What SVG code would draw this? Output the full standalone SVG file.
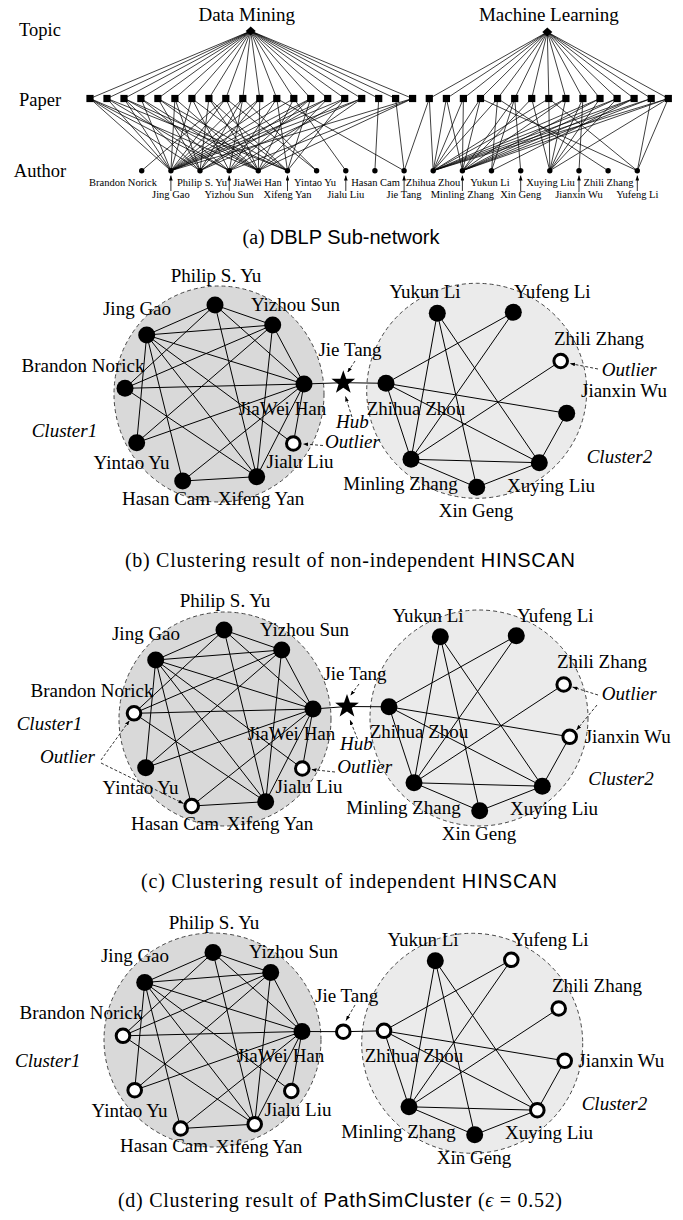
<svg xmlns="http://www.w3.org/2000/svg" width="683" height="1220" viewBox="0 0 683 1220">
<style>
.t{font-family:"Liberation Serif","Times New Roman",serif;fill:#000}
.s{font-family:"Liberation Sans",Arial,sans-serif}
.l{font-size:19px;text-anchor:middle}
.ls{font-size:19px}
.i{font-style:italic}
.a{font-size:10.5px;text-anchor:middle}
.row{font-size:18.5px;text-anchor:middle}
.cap{font-size:20px}
.e{stroke:#000;stroke-width:1;fill:none}
.ea{stroke:#000;stroke-width:0.75;fill:none}
.f{fill:#000}
.h{fill:#fff;stroke:#000;stroke-width:3}
.c1{fill:#d9d9d9;stroke:#333;stroke-width:0.9;stroke-dasharray:4 3}
.c2{fill:#ebebeb;stroke:#333;stroke-width:0.9;stroke-dasharray:4 3}
.d{stroke:#000;stroke-width:0.8;stroke-dasharray:3 2;fill:none;marker-end:url(#ah)}
.up{stroke:#000;stroke-width:0.8;fill:none;marker-end:url(#ah)}
</style>
<defs>
<marker id="ah" viewBox="0 0 8 6" refX="8" refY="3" markerWidth="5" markerHeight="3.75" markerUnits="userSpaceOnUse" orient="auto"><path d="M0 0L8 3L0 6z" fill="#000"/></marker>
</defs>
<rect width="683" height="1220" fill="#fff"/>

<!-- ============ Panel (a) ============ -->
<g id="panel-a">
<text class="t row" x="40" y="36">Topic</text>
<text class="t row" x="40" y="106">Paper</text>
<text class="t row" x="40" y="176.7">Author</text>
<g id="connectors-a">
<path class="ea" d="M250.7 31L90 98.5M250.7 31L107 98.5M250.7 31L124 98.5M250.7 31L140.9 98.5M250.7 31L157.9 98.5M250.7 31L174.9 98.5M250.7 31L191.9 98.5M250.7 31L208.9 98.5M250.7 31L225.8 98.5M250.7 31L242.8 98.5M250.7 31L259.8 98.5M250.7 31L276.8 98.5M250.7 31L293.8 98.5M250.7 31L310.7 98.5M250.7 31L327.7 98.5M250.7 31L344.7 98.5M250.7 31L361.7 98.5M250.7 31L378.7 98.5M250.7 31L395.6 98.5M250.7 31L412.6 98.5"/>
<path class="ea" d="M547.3 32L429.3 98.5M547.3 32L446.4 98.5M547.3 32L463.4 98.5M547.3 32L480.5 98.5M547.3 32L497.6 98.5M547.3 32L514.7 98.5M547.3 32L531.7 98.5M547.3 32L548.8 98.5M547.3 32L565.9 98.5M547.3 32L582.9 98.5M547.3 32L600 98.5M547.3 32L617.1 98.5M547.3 32L634.1 98.5M547.3 32L651.2 98.5M547.3 32L668.3 98.5"/>
<path class="ea" d="M90 98.5L170.9 170.7M90 98.5L200 170.7M90 98.5L229.2 170.7M90 98.5L258.3 170.7
M107 98.5L170.9 170.7M107 98.5L229.2 170.7M107 98.5L287.5 170.7
M124 98.5L170.9 170.7M124 98.5L200 170.7M124 98.5L258.3 170.7M124 98.5L287.5 170.7
M140.9 98.5L170.9 170.7M140.9 98.5L229.2 170.7M140.9 98.5L258.3 170.7
M157.9 98.5L200 170.7M157.9 98.5L258.3 170.7M157.9 98.5L287.5 170.7
M174.9 98.5L170.9 170.7M174.9 98.5L200 170.7M174.9 98.5L258.3 170.7
M191.9 98.5L170.9 170.7M191.9 98.5L229.2 170.7M191.9 98.5L287.5 170.7
M208.9 98.5L200 170.7M208.9 98.5L258.3 170.7M208.9 98.5L287.5 170.7
M225.8 98.5L141.7 170.7M225.8 98.5L170.9 170.7M225.8 98.5L258.3 170.7M225.8 98.5L316.6 170.7
M242.8 98.5L170.9 170.7M242.8 98.5L200 170.7M242.8 98.5L229.2 170.7M242.8 98.5L316.6 170.7
M259.8 98.5L170.9 170.7M259.8 98.5L200 170.7M259.8 98.5L258.3 170.7
M276.8 98.5L170.9 170.7M276.8 98.5L229.2 170.7M276.8 98.5L287.5 170.7M276.8 98.5L404.1 170.7
M293.8 98.5L170.9 170.7M293.8 98.5L258.3 170.7M293.8 98.5L345.8 170.7
M310.7 98.5L170.9 170.7M310.7 98.5L200 170.7M310.7 98.5L229.2 170.7M310.7 98.5L287.5 170.7
M327.7 98.5L170.9 170.7M327.7 98.5L200 170.7M327.7 98.5L258.3 170.7
M344.7 98.5L170.9 170.7M344.7 98.5L229.2 170.7M344.7 98.5L287.5 170.7
M361.7 98.5L170.9 170.7M361.7 98.5L200 170.7M361.7 98.5L258.3 170.7
M378.7 98.5L374.9 170.7
M395.6 98.5L404.1 170.7
M412.6 98.5L170.9 170.7M412.6 98.5L229.2 170.7M412.6 98.5L258.3 170.7"/>
<path class="ea" d="M429.3 98.5L404.1 170.7M429.3 98.5L433.2 170.7
M446.4 98.5L433.2 170.7M446.4 98.5L462.4 170.7
M463.4 98.5L433.2 170.7M463.4 98.5L462.4 170.7
M480.5 98.5L433.2 170.7M480.5 98.5L462.4 170.7M480.5 98.5L637.3 170.7
M497.6 98.5L433.2 170.7M497.6 98.5L491.5 170.7M497.6 98.5L608.1 170.7
M514.7 98.5L462.4 170.7M514.7 98.5L491.5 170.7M514.7 98.5L520.7 170.7
M531.7 98.5L462.4 170.7M531.7 98.5L549.8 170.7
M548.8 98.5L433.2 170.7M548.8 98.5L549.8 170.7M548.8 98.5L637.3 170.7
M565.9 98.5L433.2 170.7M565.9 98.5L462.4 170.7M565.9 98.5L549.8 170.7
M582.9 98.5L549.8 170.7M582.9 98.5L579 170.7
M600 98.5L433.2 170.7M600 98.5L462.4 170.7M600 98.5L549.8 170.7
M617.1 98.5L433.2 170.7M617.1 98.5L462.4 170.7M617.1 98.5L549.8 170.7
M634.1 98.5L433.2 170.7M634.1 98.5L462.4 170.7M634.1 98.5L491.5 170.7
M651.2 98.5L433.2 170.7M651.2 98.5L462.4 170.7M651.2 98.5L637.3 170.7
M668.3 98.5L433.2 170.7M668.3 98.5L462.4 170.7M668.3 98.5L549.8 170.7M668.3 98.5L637.3 170.7"/>
</g>
<g id="topic-dm"><polygon class="f" points="250.7,26.5 255.7,31 250.7,35.5 245.7,31"/><text class="t" x="246.7" y="20.7" font-size="19" text-anchor="middle">Data Mining</text></g>
<g id="topic-ml"><polygon class="f" points="547.3,27.5 552.3,32 547.3,36.5 542.3,32"/><text class="t" x="548.8" y="20.7" font-size="19" text-anchor="middle">Machine Learning</text></g>
<g id="papers" class="f">
<g id="p1"><rect x="86.4" y="94.9" width="7.2" height="7.2"/></g>
<g id="p2"><rect x="103.4" y="94.9" width="7.2" height="7.2"/></g>
<g id="p3"><rect x="120.4" y="94.9" width="7.2" height="7.2"/></g>
<g id="p4"><rect x="137.3" y="94.9" width="7.2" height="7.2"/></g>
<g id="p5"><rect x="154.3" y="94.9" width="7.2" height="7.2"/></g>
<g id="p6"><rect x="171.3" y="94.9" width="7.2" height="7.2"/></g>
<g id="p7"><rect x="188.3" y="94.9" width="7.2" height="7.2"/></g>
<g id="p8"><rect x="205.3" y="94.9" width="7.2" height="7.2"/></g>
<g id="p9"><rect x="222.2" y="94.9" width="7.2" height="7.2"/></g>
<g id="p10"><rect x="239.2" y="94.9" width="7.2" height="7.2"/></g>
<g id="p11"><rect x="256.2" y="94.9" width="7.2" height="7.2"/></g>
<g id="p12"><rect x="273.2" y="94.9" width="7.2" height="7.2"/></g>
<g id="p13"><rect x="290.2" y="94.9" width="7.2" height="7.2"/></g>
<g id="p14"><rect x="307.1" y="94.9" width="7.2" height="7.2"/></g>
<g id="p15"><rect x="324.1" y="94.9" width="7.2" height="7.2"/></g>
<g id="p16"><rect x="341.1" y="94.9" width="7.2" height="7.2"/></g>
<g id="p17"><rect x="358.1" y="94.9" width="7.2" height="7.2"/></g>
<g id="p18"><rect x="375.1" y="94.9" width="7.2" height="7.2"/></g>
<g id="p19"><rect x="392" y="94.9" width="7.2" height="7.2"/></g>
<g id="p20"><rect x="409" y="94.9" width="7.2" height="7.2"/></g>
<g id="q1"><rect x="425.7" y="94.9" width="7.2" height="7.2"/></g>
<g id="q2"><rect x="442.8" y="94.9" width="7.2" height="7.2"/></g>
<g id="q3"><rect x="459.8" y="94.9" width="7.2" height="7.2"/></g>
<g id="q4"><rect x="476.9" y="94.9" width="7.2" height="7.2"/></g>
<g id="q5"><rect x="494" y="94.9" width="7.2" height="7.2"/></g>
<g id="q6"><rect x="511.1" y="94.9" width="7.2" height="7.2"/></g>
<g id="q7"><rect x="528.1" y="94.9" width="7.2" height="7.2"/></g>
<g id="q8"><rect x="545.2" y="94.9" width="7.2" height="7.2"/></g>
<g id="q9"><rect x="562.3" y="94.9" width="7.2" height="7.2"/></g>
<g id="q10"><rect x="579.3" y="94.9" width="7.2" height="7.2"/></g>
<g id="q11"><rect x="596.4" y="94.9" width="7.2" height="7.2"/></g>
<g id="q12"><rect x="613.5" y="94.9" width="7.2" height="7.2"/></g>
<g id="q13"><rect x="630.5" y="94.9" width="7.2" height="7.2"/></g>
<g id="q14"><rect x="647.6" y="94.9" width="7.2" height="7.2"/></g>
<g id="q15"><rect x="664.7" y="94.9" width="7.2" height="7.2"/></g>
</g>
<g id="authors">
<g id="a-brandon"><circle class="f" cx="141.7" cy="170.7" r="2.7"/><text class="t a" x="123" y="185.7">Brandon Norick</text></g>
<g id="a-jinggao"><circle class="f" cx="170.9" cy="170.7" r="2.7"/><path class="up" d="M170.9 191L170.9 175.5"/><text class="t a" x="170.9" y="198">Jing Gao</text></g>
<g id="a-philip"><circle class="f" cx="200" cy="170.7" r="2.7"/><text class="t a" x="202" y="185.7">Philip S. Yu</text></g>
<g id="a-yizhou"><circle class="f" cx="229.2" cy="170.7" r="2.7"/><path class="up" d="M229.2 191L229.2 175.5"/><text class="t a" x="229.2" y="198">Yizhou Sun</text></g>
<g id="a-jiawei"><circle class="f" cx="258.3" cy="170.7" r="2.7"/><text class="t a" x="257.5" y="185.7">JiaWei Han</text></g>
<g id="a-xifeng"><circle class="f" cx="287.5" cy="170.7" r="2.7"/><path class="up" d="M287.5 191L287.5 175.5"/><text class="t a" x="287.5" y="198">Xifeng Yan</text></g>
<g id="a-yintao"><circle class="f" cx="316.6" cy="170.7" r="2.7"/><text class="t a" x="315" y="185.7">Yintao Yu</text></g>
<g id="a-jialu"><circle class="f" cx="345.8" cy="170.7" r="2.7"/><path class="up" d="M345.8 191L345.8 175.5"/><text class="t a" x="345.8" y="198">Jialu Liu</text></g>
<g id="a-hasan"><circle class="f" cx="374.9" cy="170.7" r="2.7"/><text class="t a" x="375.5" y="185.7">Hasan Cam</text></g>
<g id="a-jietang"><circle class="f" cx="404.1" cy="170.7" r="2.7"/><path class="up" d="M404.1 191L404.1 175.5"/><text class="t a" x="404.1" y="198">Jie Tang</text></g>
<g id="a-zhihua"><circle class="f" cx="433.2" cy="170.7" r="2.7"/><text class="t a" x="433" y="185.7">Zhihua Zhou</text></g>
<g id="a-minling"><circle class="f" cx="462.4" cy="170.7" r="2.7"/><path class="up" d="M462.4 191L462.4 175.5"/><text class="t a" x="462.4" y="198">Minling Zhang</text></g>
<g id="a-yukun"><circle class="f" cx="491.5" cy="170.7" r="2.7"/><text class="t a" x="490" y="185.7">Yukun Li</text></g>
<g id="a-xingeng"><circle class="f" cx="520.7" cy="170.7" r="2.7"/><path class="up" d="M520.7 191L520.7 175.5"/><text class="t a" x="520.7" y="198">Xin Geng</text></g>
<g id="a-xuying"><circle class="f" cx="549.8" cy="170.7" r="2.7"/><text class="t a" x="550.5" y="185.7">Xuying Liu</text></g>
<g id="a-jianxin"><circle class="f" cx="579" cy="170.7" r="2.7"/><path class="up" d="M579 191L579 175.5"/><text class="t a" x="579" y="198">Jianxin Wu</text></g>
<g id="a-zhili"><circle class="f" cx="608.1" cy="170.7" r="2.7"/><text class="t a" x="608.5" y="185.7">Zhili Zhang</text></g>
<g id="a-yufeng"><circle class="f" cx="637.3" cy="170.7" r="2.7"/><path class="up" d="M637.3 191L637.3 175.5"/><text class="t a" x="637.3" y="198">Yufeng Li</text></g>
</g>
<text class="t cap" x="341" y="244" text-anchor="middle">(a) <tspan class="s">DBLP Sub-network</tspan></text>
</g>

<!-- ============ Panel (b) ============ -->
<g id="panel-b">
<ellipse class="c1" cx="219" cy="394" rx="105" ry="108"/>
<ellipse class="c2" cx="476.7" cy="390.8" rx="110" ry="107.5"/>
<g id="connectors-b">
<path class="e" d="M146.7 335L215 305M146.7 335L272.7 325M146.7 335L304 384M146.7 335L136.7 442.7M146.7 335L182.7 481M146.7 335L256.7 476.7M146.7 335L293.3 443.5M215 305L272.7 325M215 305L125 388.3M215 305L304 384M215 305L256.7 476.7M272.7 325L125 388.3M272.7 325L136.7 442.7M272.7 325L304 384M272.7 325L256.7 476.7M125 388.3L304 384M125 388.3L256.7 476.7M136.7 442.7L304 384M182.7 481L256.7 476.7M182.7 481L304 384M304 384L256.7 476.7M304 384L293.3 443.5"/>
<path class="e" d="M386 383.3L513.3 312.3M386 383.3L566.7 413.3M386 383.3L411 459.3M386 383.3L539.3 462.7M437.3 313.3L411 459.3M437.3 313.3L476.7 487.3M437.3 313.3L539.3 462.7M513.3 312.3L411 459.3M560.7 361L411 459.3M411 459.3L539.3 462.7M411 459.3L476.7 487.3M476.7 487.3L539.3 462.7M539.3 462.7L566.7 413.3"/>
<path class="e" d="M304 384L343.3 382.7L386 383.3"/>
<path class="d" d="M355 361L347.5 372.5"/>
<path class="d" d="M352 417L345.5 396.5"/>
<path class="d" d="M323 445.5L303 444"/>
<path class="d" d="M598 369L570 363.5"/>
</g>
<g id="b-philip"><circle class="f" cx="215" cy="305" r="8.5"/><text class="t l" x="216" y="281.5">Philip S. Yu</text></g>
<g id="b-jinggao"><circle class="f" cx="146.7" cy="335" r="8.5"/><text class="t l" x="137" y="314.7">Jing Gao</text></g>
<g id="b-yizhou"><circle class="f" cx="272.7" cy="325" r="8.5"/><text class="t l" x="295.5" y="310.5">Yizhou Sun</text></g>
<g id="b-brandon"><circle class="f" cx="125" cy="388.3" r="8.5"/><text class="t l" x="83" y="371.5">Brandon Norick</text></g>
<g id="b-jiawei"><circle class="f" cx="304" cy="384" r="8.5"/><text class="t l" x="282.5" y="414.5">JiaWei Han</text></g>
<g id="b-yintao"><circle class="f" cx="136.7" cy="442.7" r="8.5"/><text class="t l" x="131.5" y="469">Yintao Yu</text></g>
<g id="b-jialu"><circle class="h" cx="293.3" cy="443.5" r="6.8"/><text class="t l" x="300" y="468">Jialu Liu</text></g>
<g id="b-hasan"><circle class="f" cx="182.7" cy="481" r="8.5"/><text class="t l" x="166" y="504.5">Hasan Cam</text></g>
<g id="b-xifeng"><circle class="f" cx="256.7" cy="476.7" r="8.5"/><text class="t l" x="261" y="505">Xifeng Yan</text></g>
<g id="b-jietang"><polygon class="f" transform="translate(343.3 382.7)" points="0,-12.5 2.94,-4.05 11.89,-3.86 4.76,1.55 7.35,10.11 0,5 -7.35,10.11 -4.76,1.55 -11.89,-3.86 -2.94,-4.05"/><text class="t l" x="350" y="356">Jie Tang</text></g>
<g id="b-yukun"><circle class="f" cx="437.3" cy="313.3" r="8.5"/><text class="t l" x="425" y="298">Yukun Li</text></g>
<g id="b-yufeng"><circle class="f" cx="513.3" cy="312.3" r="8.5"/><text class="t l" x="552.3" y="298">Yufeng Li</text></g>
<g id="b-zhili"><circle class="h" cx="560.7" cy="361" r="6.8"/><text class="t l" x="599" y="344.5">Zhili Zhang</text></g>
<g id="b-zhihua"><circle class="f" cx="386" cy="383.3" r="8.5"/><text class="t l" x="416" y="414.7">Zhihua Zhou</text></g>
<g id="b-jianxin"><circle class="f" cx="566.7" cy="413.3" r="8.5"/><text class="t l" x="624" y="396.7">Jianxin Wu</text></g>
<g id="b-minling"><circle class="f" cx="411" cy="459.3" r="8.5"/><text class="t l" x="400.5" y="490.3">Minling Zhang</text></g>
<g id="b-xuying"><circle class="f" cx="539.3" cy="462.7" r="8.5"/><text class="t l" x="551" y="491.9">Xuying Liu</text></g>
<g id="b-xingeng"><circle class="f" cx="476.7" cy="487.3" r="8.5"/><text class="t l" x="476" y="516.9">Xin Geng</text></g>
<text class="t ls i" x="31.7" y="436.7">Cluster1</text>
<text class="t ls i" x="586.7" y="463.3">Cluster2</text>
<text class="t ls i" x="336" y="428">Hub</text>
<text class="t ls i" x="325" y="448">Outlier</text>
<text class="t ls i" x="601.7" y="376">Outlier</text>
<text class="t cap" x="125" y="566.7" textLength="450" lengthAdjust="spacing">(b) Clustering result of non-independent <tspan class="s">HINSCAN</tspan></text>
</g>

<!-- ============ Panel (c) ============ -->
<g id="panel-c">
<ellipse class="c1" cx="225" cy="719" rx="106" ry="107"/>
<ellipse class="c2" cx="479" cy="718" rx="109" ry="108"/>
<g id="connectors-c">
<path class="e" transform="translate(9 325)" d="M146.7 335L215 305M146.7 335L272.7 325M146.7 335L304 384M146.7 335L136.7 442.7M146.7 335L182.7 481M146.7 335L256.7 476.7M146.7 335L293.3 443.5M215 305L272.7 325M215 305L125 388.3M215 305L304 384M215 305L256.7 476.7M272.7 325L125 388.3M272.7 325L136.7 442.7M272.7 325L304 384M272.7 325L256.7 476.7M125 388.3L304 384M125 388.3L256.7 476.7M136.7 442.7L304 384M182.7 481L256.7 476.7M182.7 481L304 384M304 384L256.7 476.7M304 384L293.3 443.5"/>
<path class="e" transform="translate(3 323.5)" d="M386 383.3L513.3 312.3M386 383.3L566.7 413.3M386 383.3L411 459.3M386 383.3L539.3 462.7M437.3 313.3L411 459.3M437.3 313.3L476.7 487.3M437.3 313.3L539.3 462.7M513.3 312.3L411 459.3M560.7 361L411 459.3M411 459.3L539.3 462.7M411 459.3L476.7 487.3M476.7 487.3L539.3 462.7M539.3 462.7L566.7 413.3"/>
<path class="e" d="M313 709L347 706.5L389 706.8"/>
<path class="d" d="M359 684L350.5 695.5"/>
<path class="d" d="M357.5 739L350 720"/>
<path class="d" d="M335 772L311.5 769.5"/>
<path class="d" d="M101 760L129.5 720.5"/>
<path class="d" d="M101 763L183.5 803.5"/>
<path class="d" d="M598 695L572.5 687"/>
<path class="d" d="M597 705L576.5 730"/>
</g>
<g transform="translate(9 325)">
<g id="c-philip"><circle class="f" cx="215" cy="305" r="8.5"/><text class="t l" x="216" y="281.5">Philip S. Yu</text></g>
<g id="c-jinggao"><circle class="f" cx="146.7" cy="335" r="8.5"/><text class="t l" x="137" y="314.7">Jing Gao</text></g>
<g id="c-yizhou"><circle class="f" cx="272.7" cy="325" r="8.5"/><text class="t l" x="295.5" y="310.5">Yizhou Sun</text></g>
<g id="c-brandon"><circle class="h" cx="125" cy="388.3" r="6.8"/><text class="t l" x="83" y="371.5">Brandon Norick</text></g>
<g id="c-jiawei"><circle class="f" cx="304" cy="384" r="8.5"/><text class="t l" x="282.5" y="414.5">JiaWei Han</text></g>
<g id="c-yintao"><circle class="f" cx="136.7" cy="442.7" r="8.5"/><text class="t l" x="131.5" y="469">Yintao Yu</text></g>
<g id="c-jialu"><circle class="h" cx="293.3" cy="443.5" r="6.8"/><text class="t l" x="300" y="468">Jialu Liu</text></g>
<g id="c-hasan"><circle class="h" cx="182.7" cy="481" r="6.8"/><text class="t l" x="166" y="504.5">Hasan Cam</text></g>
<g id="c-xifeng"><circle class="f" cx="256.7" cy="476.7" r="8.5"/><text class="t l" x="261" y="505">Xifeng Yan</text></g>
</g>
<g id="c-jietang"><polygon class="f" transform="translate(347 706.5)" points="0,-12.5 2.94,-4.05 11.89,-3.86 4.76,1.55 7.35,10.11 0,5 -7.35,10.11 -4.76,1.55 -11.89,-3.86 -2.94,-4.05"/><text class="t l" x="355" y="680">Jie Tang</text></g>
<g transform="translate(3 323.5)">
<g id="c-yukun"><circle class="f" cx="437.3" cy="313.3" r="8.5"/><text class="t l" x="425" y="298">Yukun Li</text></g>
<g id="c-yufeng"><circle class="f" cx="513.3" cy="312.3" r="8.5"/><text class="t l" x="552.3" y="298">Yufeng Li</text></g>
<g id="c-zhili"><circle class="h" cx="560.7" cy="361" r="6.8"/><text class="t l" x="599" y="344.5">Zhili Zhang</text></g>
<g id="c-zhihua"><circle class="f" cx="386" cy="383.3" r="8.5"/><text class="t l" x="416" y="414.7">Zhihua Zhou</text></g>
<g id="c-jianxin"><circle class="h" cx="566.7" cy="413.3" r="6.8"/><text class="t ls" x="581.7" y="419.8">Jianxin Wu</text></g>
<g id="c-minling"><circle class="f" cx="411" cy="459.3" r="8.5"/><text class="t l" x="400.5" y="490.3">Minling Zhang</text></g>
<g id="c-xuying"><circle class="f" cx="539.3" cy="462.7" r="8.5"/><text class="t l" x="551" y="491.9">Xuying Liu</text></g>
<g id="c-xingeng"><circle class="f" cx="476.7" cy="487.3" r="8.5"/><text class="t l" x="476" y="516.9">Xin Geng</text></g>
</g>
<text class="t ls i" x="16.7" y="730">Cluster1</text>
<text class="t ls i" x="588.3" y="785">Cluster2</text>
<text class="t ls i" x="340" y="750">Hub</text>
<text class="t ls i" x="337.3" y="773.3">Outlier</text>
<text class="t ls i" x="40" y="763.3">Outlier</text>
<text class="t ls i" x="601.7" y="700">Outlier</text>
<text class="t cap" x="141" y="888" textLength="416" lengthAdjust="spacing">(c) Clustering result of independent <tspan class="s">HINSCAN</tspan></text>
</g>

<!-- ============ Panel (d) ============ -->
<g id="panel-d">
<ellipse class="c1" cx="212.5" cy="1040" rx="108.5" ry="107"/>
<ellipse class="c2" cx="472.2" cy="1043.3" rx="110.5" ry="110"/>
<g id="connectors-d" transform="translate(-2 647.5)">
<path class="e" d="M146.7 335L215 305M146.7 335L272.7 325M146.7 335L304 384M146.7 335L136.7 442.7M146.7 335L182.7 481M146.7 335L256.7 476.7M146.7 335L293.3 443.5M215 305L272.7 325M215 305L125 388.3M215 305L304 384M215 305L256.7 476.7M272.7 325L125 388.3M272.7 325L136.7 442.7M272.7 325L304 384M272.7 325L256.7 476.7M125 388.3L304 384M125 388.3L256.7 476.7M136.7 442.7L304 384M182.7 481L256.7 476.7M182.7 481L304 384M304 384L256.7 476.7M304 384L293.3 443.5"/>
<path class="e" d="M386 383.3L513.3 312.3M386 383.3L566.7 413.3M386 383.3L411 459.3M386 383.3L539.3 462.7M437.3 313.3L411 459.3M437.3 313.3L476.7 487.3M437.3 313.3L539.3 462.7M513.3 312.3L411 459.3M560.7 361L411 459.3M411 459.3L539.3 462.7M411 459.3L476.7 487.3M476.7 487.3L539.3 462.7M539.3 462.7L566.7 413.3"/>
<path class="e" d="M304 384L345.3 384.2L386 383.3"/>
<path class="d" d="M357 357.5L348 373"/>
</g>
<g transform="translate(-2 647.5)">
<g id="d-philip"><circle class="f" cx="215" cy="305" r="8.5"/><text class="t l" x="216" y="281.5">Philip S. Yu</text></g>
<g id="d-jinggao"><circle class="f" cx="146.7" cy="335" r="8.5"/><text class="t l" x="137" y="314.7">Jing Gao</text></g>
<g id="d-yizhou"><circle class="f" cx="272.7" cy="325" r="8.5"/><text class="t l" x="295.5" y="310.5">Yizhou Sun</text></g>
<g id="d-brandon"><circle class="h" cx="125" cy="388.3" r="6.8"/><text class="t l" x="83" y="371.5">Brandon Norick</text></g>
<g id="d-jiawei"><circle class="f" cx="304" cy="384" r="8.5"/><text class="t l" x="282.5" y="414.5">JiaWei Han</text></g>
<g id="d-yintao"><circle class="h" cx="136.7" cy="442.7" r="6.8"/><text class="t l" x="131.5" y="469">Yintao Yu</text></g>
<g id="d-jialu"><circle class="h" cx="293.3" cy="443.5" r="6.8"/><text class="t l" x="300" y="468">Jialu Liu</text></g>
<g id="d-hasan"><circle class="h" cx="182.7" cy="481" r="6.8"/><text class="t l" x="166" y="504.5">Hasan Cam</text></g>
<g id="d-xifeng"><circle class="h" cx="256.7" cy="476.7" r="6.8"/><text class="t l" x="261" y="505">Xifeng Yan</text></g>
<g id="d-jietang"><circle class="h" cx="345.3" cy="384.2" r="6.8"/><text class="t l" x="348.7" y="354.2">Jie Tang</text></g>
<g id="d-yukun"><circle class="f" cx="437.3" cy="313.3" r="8.5"/><text class="t l" x="425" y="298">Yukun Li</text></g>
<g id="d-yufeng"><circle class="h" cx="513.3" cy="312.3" r="6.8"/><text class="t l" x="552.3" y="298">Yufeng Li</text></g>
<g id="d-zhili"><circle class="h" cx="560.7" cy="361" r="6.8"/><text class="t l" x="599" y="344.5">Zhili Zhang</text></g>
<g id="d-zhihua"><circle class="h" cx="386" cy="383.3" r="6.8"/><text class="t l" x="416" y="414.7">Zhihua Zhou</text></g>
<g id="d-jianxin"><circle class="h" cx="566.7" cy="413.3" r="6.8"/><text class="t ls" x="580.3" y="419.2">Jianxin Wu</text></g>
<g id="d-minling"><circle class="f" cx="411" cy="459.3" r="8.5"/><text class="t l" x="400.5" y="490.3">Minling Zhang</text></g>
<g id="d-xuying"><circle class="h" cx="539.3" cy="462.7" r="6.8"/><text class="t l" x="551" y="491.9">Xuying Liu</text></g>
<g id="d-xingeng"><circle class="f" cx="476.7" cy="487.3" r="8.5"/><text class="t l" x="476" y="516.9">Xin Geng</text></g>
</g>
<text class="t ls i" x="15" y="1066.7">Cluster1</text>
<text class="t ls i" x="581.7" y="1110">Cluster2</text>
<text class="t cap" x="118" y="1207" textLength="444" lengthAdjust="spacing">(d) Clustering result of <tspan class="s">PathSimCluster</tspan> (<tspan class="i">ϵ</tspan> = 0.52)</text>
</g>
</svg>
